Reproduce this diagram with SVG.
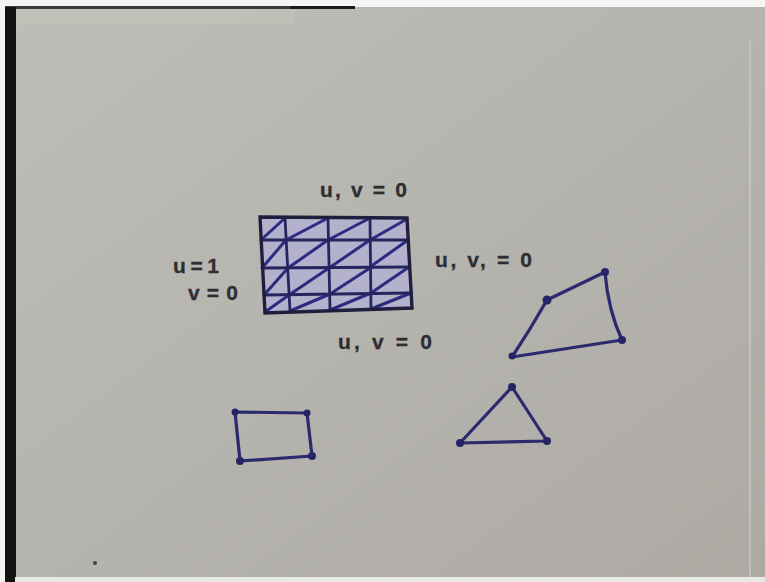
<svg xmlns="http://www.w3.org/2000/svg" width="765" height="582" viewBox="0 0 765 582">
<defs>
<style>
.ink{fill:none;stroke:#2b2a6e;stroke-width:3.2;stroke-linecap:round;stroke-linejoin:round}
.grid{fill:none;stroke:#26245e;stroke-width:2.8;stroke-linecap:round}
.diag{fill:none;stroke:#2d2b80;stroke-width:3;stroke-linecap:round}
.dot{fill:#262466}
.lbl{font-family:"Liberation Sans",Arial,sans-serif;font-size:21px;font-weight:bold;fill:#2e2d32;stroke:#2e2d32;stroke-width:0.3}
</style>
<linearGradient id="paper" x1="0" y1="0" x2="1" y2="1">
<stop offset="0" stop-color="#bebdb7"/>
<stop offset="1" stop-color="#adaaa4"/>
</linearGradient>
</defs>
<rect width="765" height="582" fill="#f4f4f2"/>
<rect x="5" y="7" width="760" height="572" fill="url(#paper)"/>
<rect x="15" y="8" width="280" height="16" fill="#c6c5bc" opacity="0.5"/>
<rect x="5" y="6" width="290" height="3" fill="#3a3a36"/>
<rect x="290" y="6" width="65" height="3" fill="#1a1a18"/>
<rect x="5" y="7" width="11" height="575" fill="#121310"/>
<rect x="749" y="40" width="2" height="540" fill="#cfcfcc" opacity="0.6"/>
<rect x="15" y="577" width="750" height="5" fill="#e8e8e6"/>
<circle cx="95" cy="563" r="2" fill="#444"/>

<g id="mesh">
<polygon points="260,217 407,218 412,308 265,313" fill="#b3b1cc"/>
<path class="diag" d="M261,240 L285,218 M286,240 L328,218 M328,240 L370,218 M370,240 L407,219
M262,268 L286,240 M288,268 L328,240 M329,268 L370,240 M370,267 L408,240
M264,295 L288,268 M289,295 L329,268 M330,294 L370,268 M371,293 L409,267
M265,312 L289,295 M290,311 L330,294 M330,310 L371,293 M371,309 L411,293"/>
<path class="grid" d="M262,240 L408,240 M263,268 L409,267 M264,295 L411,293"/>
<path class="grid" d="M285,218 L290,311 M328,218 L330,310 M370,218 L371,309"/>
<polygon class="grid" points="260,217 407,218 412,308 265,313" style="stroke:#1f1e3e;stroke-width:3.4"/>
</g>

<g id="labels">
<text class="lbl" x="320" y="197" textLength="87" lengthAdjust="spacing">u, v = 0</text>
<text class="lbl" x="435" y="267" textLength="97" lengthAdjust="spacing">u, v, = 0</text>
<text class="lbl" x="173" y="273" textLength="46" lengthAdjust="spacing">u=1</text>
<text class="lbl" x="188" y="300" textLength="50" lengthAdjust="spacing">v=0</text>
<text class="lbl" x="338" y="349" textLength="94" lengthAdjust="spacing">u, v = 0</text>
</g>

<g id="quad">
<path class="ink" d="M605,272 L547,300 Q530,330 512,357 L622,340 Q608,310 605,272 Z"/>
<circle class="dot" cx="605" cy="272" r="4"/>
<circle class="dot" cx="547" cy="300" r="4.5"/>
<circle class="dot" cx="512" cy="356" r="3.5"/>
<circle class="dot" cx="622" cy="340" r="4"/>
</g>

<g id="triangle">
<path class="ink" d="M512,387 L460,443 L547,441 Z"/>
<circle class="dot" cx="512" cy="387" r="4"/>
<circle class="dot" cx="460" cy="443" r="4"/>
<circle class="dot" cx="547" cy="441" r="4"/>
</g>

<g id="rect">
<path class="ink" d="M235,412 L307,413 L312,456 L240,461 Z"/>
<circle class="dot" cx="235" cy="412" r="3.5"/>
<circle class="dot" cx="307" cy="413" r="3.5"/>
<circle class="dot" cx="312" cy="456" r="4"/>
<circle class="dot" cx="240" cy="461" r="4"/>
</g>
</svg>
